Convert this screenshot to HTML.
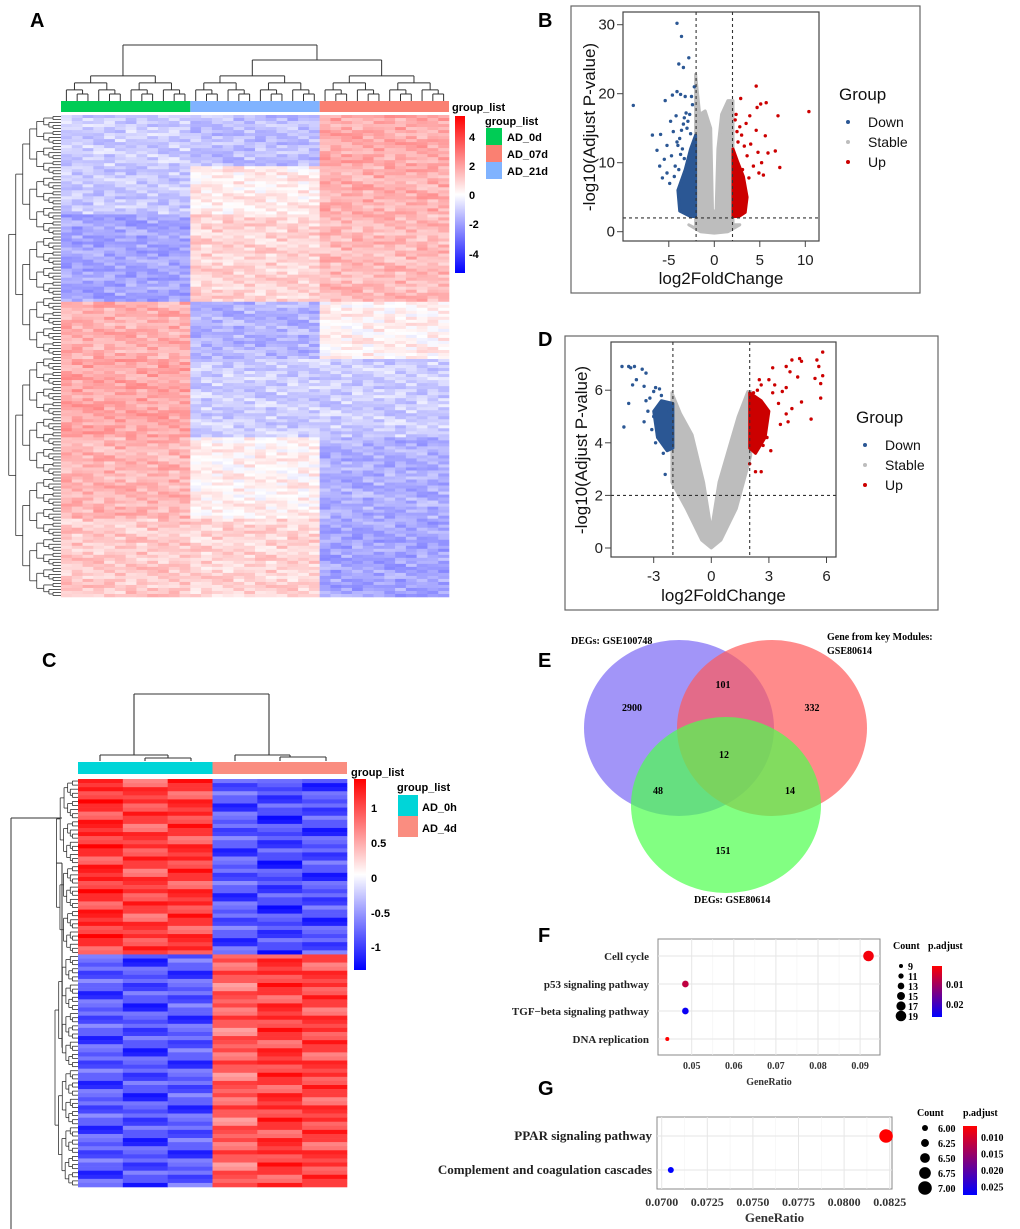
<!DOCTYPE html>
<html><head><meta charset="utf-8">
<style>
html,body{margin:0;padding:0;background:#fff;}
svg{display:block;}
.pl{font-family:"Liberation Sans",sans-serif;font-weight:bold;font-size:20px;}
.hm{font-family:"Liberation Sans",sans-serif;font-weight:bold;font-size:11px;}
.vt{font-family:"Liberation Sans",sans-serif;}
.sf{font-family:"Liberation Serif",serif;font-weight:bold;}
</style></head>
<body>
<svg id="fig" width="1020" height="1229" viewBox="0 0 1020 1229" xmlns="http://www.w3.org/2000/svg">
<rect x="0" y="0" width="1020" height="1229" fill="#fff"/>
<text class="pl" x="30" y="27">A</text>
<text class="pl" x="538" y="27">B</text>
<text class="pl" x="538" y="346">D</text>
<text class="pl" x="42" y="667">C</text>
<text class="pl" x="538" y="667">E</text>
<text class="pl" x="538" y="942">F</text>
<text class="pl" x="538" y="1095">G</text>
<g id="gA"></g>
<g id="gB"></g>
<g id="gD"></g>
<g id="gC"></g>
<g id="gE"></g>
<g id="gF"></g>
<g id="gG"></g>
</svg>
<script>
// ---------- data ----------
const hmAGroups = ["AD_0d","AD_21d","AD_07d"];
const hmABandRows = [17, 16, 29, 19, 26, 27, 26];
const hmABand0d  = [-1.0, -1.1, -1.8, 1.5, 1.7, 1.4, 1.0];
const hmABand21d = [-1.3, 0.3, 0.8, -1.5, -1.0, 0.2, 0.8];
const hmABand07d = [1.6, 1.5, 1.3, 0.2, -1.0, -1.6, -1.8];
const hmAJitter = [0.3,-0.2,0.5,-0.4,0.1,0.0,-0.3,0.4,-0.1,0.2,-0.5,0.3,0.0,-0.2,0.6,-0.3,0.1];
const hmCBandRows = [43, 57];
const hmCCols0h = [[1.05,0.95,1.0],[-0.9,-0.95,-0.9]];
const hmCCols4d = [[-0.9,-1.0,-0.95],[0.8,1.0,0.95]];
const hmCJitter = [0.1,-0.15,0.05,0.2,-0.1,0.0,0.15,-0.2,0.05,-0.05,0.12];
// Volcano B
const bDownX = [-4.1,-3.6,-2.8,-3.9,-3.4,-8.9,-5.4,-4.6,-4.1,-3.7,-3.2,-2.5,-2.2,-6.8,-5.9,-6.3,-5.2,-4.7,-5.5,-4.3,-5.2,-4.9,-4.4,-3.9,-3.5,-3.8,-3.0,-3.3,-2.7,-4.8,-4.2,-4.5,-3.6,-4.0,-6.0,-5.7,-3.1,-2.9,-3.4,-2.6,-4.1,-3.7,-3.3,-2.4];
const bDownY = [30.2,28.3,25.2,24.3,23.8,18.3,19.0,19.8,20.3,19.9,19.6,19.6,21.0,14.0,14.1,11.8,12.5,11.0,10.5,9.5,8.5,7.0,8.0,9.0,12.0,13.5,15.0,16.5,17.0,16.0,16.8,14.5,14.7,12.5,9.5,7.8,17.2,16.0,15.6,14.2,13.0,11.2,10.6,18.4];
const bDownBlobX = [-2.05,-2.05,-2.6,-3.2,-4.0,-3.8,-2.6];
const bDownBlobY = [2.2,14.0,12.0,9.0,6.0,3.0,2.2];
const bUpX = [4.6,2.9,5.7,5.1,4.7,10.4,7.0,2.4,3.9,4.6,5.6,6.7,7.2,5.9,4.8,5.2,5.4,4.9,4.0,3.5,3.0,3.6,4.3,3.8,2.6,3.1,2.3,2.8,3.3,2.5];
const bUpY = [21.1,19.3,18.7,18.5,18.0,17.4,16.8,17.0,16.8,14.7,13.9,11.7,9.3,11.4,11.5,10.0,8.2,8.5,12.7,15.7,14.0,11.0,9.5,7.8,13.0,9.0,16.2,15.2,12.4,14.5];
const bUpBlobX = [2.05,2.05,2.6,3.2,3.6,3.4,2.7];
const bUpBlobY = [2.2,12.0,10.0,8.0,5.0,2.8,2.2];
const bStableX = [-2.05,-2.05,-1.6,-1.0,-0.4,-0.2,0.2,0.4,0.8,1.5,2.05,2.05,2.8,1.5,0.0,-1.5,-2.8];
const bStableY = [0.5,22.8,17.0,17.5,15.0,3.0,3.0,12.0,17.0,19.0,19.0,1.0,1.0,0.0,-0.2,0.0,1.0];
const bXTicks = [-5,0,5,10];
const bYTicks = [0,10,20,30];
// Volcano D
const dDownX = [-4.65,-4.3,-4.2,-4.0,-3.6,-3.4,-3.9,-4.1,-3.5,-2.9,-2.7,-3.0,-3.2,-4.3,-4.55,-3.3,-3.5,-3.1,-2.5,-2.3,-2.4,-2.8,-3.0,-2.6,-2.2,-2.9,-3.4];
const dDownY = [6.9,6.9,6.85,6.9,6.8,6.65,6.4,6.2,6.15,6.1,6.05,5.95,5.7,5.5,4.6,5.2,4.8,4.5,3.6,3.8,2.8,4.3,5.0,5.8,5.2,4.0,5.6];
const dDownBlobX = [-2.0,-2.0,-2.6,-3.0,-2.8,-2.3];
const dDownBlobY = [3.8,5.5,5.6,5.2,4.2,3.7];
const dUpX = [5.8,4.6,4.2,5.5,4.7,3.9,5.6,3.2,4.1,4.5,5.8,5.4,5.7,3.0,2.5,3.3,3.9,2.6,3.7,2.2,3.2,4.7,5.7,5.2,4.0,3.9,4.2,2.6,2.3,2.0,3.1,2.9,3.5,3.6,2.4,2.7];
const dUpY = [7.45,7.2,7.15,7.15,7.1,6.9,6.9,6.85,6.7,6.5,6.55,6.45,6.25,6.4,6.4,6.2,6.1,6.2,5.95,5.9,5.9,5.55,5.7,4.9,4.8,5.1,5.3,2.9,2.9,3.2,3.7,4.2,5.5,4.7,6.0,3.9];
const dUpBlobX = [2.0,2.0,2.6,3.0,2.8,2.3];
const dUpBlobY = [3.8,5.9,5.6,5.2,4.2,3.6];
const dStableX = [-2.05,-2.05,-1.6,-1.0,-0.4,-0.05,0.05,0.4,1.0,1.4,1.9,2.05,2.05,1.3,0.5,0.0,-0.5,-1.3];
const dStableY = [2.5,5.9,5.1,4.3,2.5,0.9,0.9,2.5,4.0,5.0,5.95,5.95,3.5,1.5,0.3,0.0,0.3,1.5];
const dXTicks = [-3,0,3,6];
const dYTicks = [0,2,4,6];
// Venn E
const vennCounts = ["2900","101","332","12","48","14","151"];
// Dotplot F
const fTerms = ["Cell cycle","p53 signaling pathway","TGF\u2212beta signaling pathway","DNA replication"];
const fRatio = [0.092,0.0485,0.0485,0.0442];
const fCount = [19,13,13,9];
const fPadj = [0.003,0.008,0.025,0.002];
const fXTicks = [0.05,0.06,0.07,0.08,0.09];
const fCountLegend = [9,11,13,15,17,19];
const fPadjTicks = [0.01,0.02];
// Dotplot G
const gTerms = ["PPAR signaling pathway","Complement and coagulation cascades"];
const gRatio = [0.0823,0.0705];
const gCount = [7,6];
const gPadj = [0.008,0.027];
const gXTicks = [0.07,0.0725,0.075,0.0775,0.08,0.0825];
const gCountLegend = [6.00,6.25,6.50,6.75,7.00];
const gPadjTicks = [0.010,0.015,0.020,0.025];

// ---------- helpers ----------
const NS="http://www.w3.org/2000/svg";
function mk(parent,tag,attrs,txt){const e=document.createElementNS(NS,tag);for(const k in attrs)e.setAttribute(k,attrs[k]);if(txt!==undefined)e.textContent=txt;parent.appendChild(e);return e;}
function hcol(v,max){let t=Math.max(-1,Math.min(1,v/max));if(t>=0){const c=Math.round(255*(1-t));return `rgb(255,${c},${c})`;}const c=Math.round(255*(1+t));return `rgb(${c},${c},255)`;}
function seg(p,x1,y1,x2,y2,st,w){return mk(p,"line",{x1:x1,y1:y1,x2:x2,y2:y2,stroke:st||"#333","stroke-width":w||1});}

// ---------- Heatmap A ----------
try{(function(){
  const g=document.getElementById("gA");
  const X0=61,X1=449,Y0=115,Y1=597,ncolPer=12;
  const ncol=ncolPer*3;const cw=(X1-X0)/ncol;
  const nrow=hmABandRows.reduce((a,b)=>a+b,0);const rh=(Y1-Y0)/nrow;
  const groupVals=[hmABand0d,hmABand21d,hmABand07d];
  let r=0;
  hmABandRows.forEach((cnt,b)=>{
    for(let k=0;k<cnt;k++,r++){
      for(let c=0;c<ncol;c++){
        const gi=Math.floor(c/ncolPer);
        const v=groupVals[gi][b]+hmAJitter[(r*7+c*5+((r*c)%3))%hmAJitter.length]*1.1;
        const el=mk(g,"rect",{x:(X0+c*cw).toFixed(2),y:(Y0+r*rh).toFixed(2),width:(cw+0.3).toFixed(2),height:(rh+0.3).toFixed(2),fill:hcol(v,5)});
        
        
      }
    }
  });
  const gcol=["#00cc55","#80b3ff","#fa8072"];
  for(let i=0;i<3;i++){const el=mk(g,"rect",{x:X0+i*ncolPer*cw,y:101,width:ncolPer*cw,height:11,fill:gcol[i]});
    
    }
  function topTree(lo,hi){
    if(hi-lo===1)return [X0+(lo+0.5)*cw,101];
    const mid=Math.floor((lo+hi)/2);
    const y=101-7*Math.log2(hi-lo);
    const a=topTree(lo,mid),b=topTree(mid,hi);
    seg(g,a[0],y,b[0],y);seg(g,a[0],y,a[0],a[1]);seg(g,b[0],y,b[0],b[1]);
    return [(a[0]+b[0])/2,y];
  }
  const gx=[];for(let i=0;i<3;i++)gx.push(topTree(i*ncolPer,(i+1)*ncolPer));
  seg(g,gx[1][0],60,gx[2][0],60);seg(g,gx[1][0],60,gx[1][0],gx[1][1]);seg(g,gx[2][0],60,gx[2][0],gx[2][1]);
  const br=(gx[1][0]+gx[2][0])/2;seg(g,gx[0][0],45,br,45);seg(g,gx[0][0],45,gx[0][0],gx[0][1]);seg(g,br,45,br,60);
  function leftTree(lo,hi){
    const yc=Y0+((lo+hi)/2)*rh;
    if(hi-lo===1)return [X0,yc];
    const mid=Math.floor((lo+hi)/2);
    const x=X0-7*Math.log2(hi-lo)-1;
    const a=leftTree(lo,mid),b=leftTree(mid,hi);
    seg(g,x,a[1],x,b[1],"#333",0.8);seg(g,x,a[1],a[0],a[1],"#333",0.8);seg(g,x,b[1],b[0],b[1],"#333",0.8);
    return [x,(a[1]+b[1])/2];
  }
  leftTree(0,nrow);
  const defs=mk(g,"defs",{});const lg=mk(defs,"linearGradient",{id:"gradA",x1:0,y1:0,x2:0,y2:1});
  [["0","#ff0000"],["0.5","#ffffff"],["1","#0000ff"]].forEach(s=>mk(lg,"stop",{offset:s[0],"stop-color":s[1]}));
  const cb=mk(g,"rect",{x:455,y:116,width:10,height:157,fill:"url(#gradA)"});
  
  
  [["4",141],["2",170],["0",199],["-2",228],["-4",258]].forEach(t=>{const el=mk(g,"text",{x:469,y:t[1],class:"hm"},t[0]);
    
    });
  const t1=mk(g,"text",{x:452,y:111,class:"hm"},"group_list");
  
  
  const t2=mk(g,"text",{x:485,y:125,class:"hm"},"group_list");
  
  
  const lcol=["#00cc55","#fa8072","#80b3ff"],lname=["AD_0d","AD_07d","AD_21d"];
  for(let i=0;i<3;i++){
    const sw=mk(g,"rect",{x:486,y:128+i*17,width:16,height:17,fill:lcol[i]});
    
    
    const lt=mk(g,"text",{x:507,y:141+i*17,class:"hm"},lname[i]);
    
    
  }
})();}catch(e){console.log(e);}

// ---------- Volcano ----------
function volcano(id,o){
  const g=document.getElementById(id);
  const sx=v=>o.x0+(v-o.xa)*o.kx, sy=v=>o.y0-(v)*o.ky;
  const ob=mk(g,"rect",{x:o.box[0],y:o.box[1],width:o.box[2],height:o.box[3],fill:"#fff",stroke:"#666","stroke-width":1.2});
  
  
  const pa=mk(g,"rect",{x:o.pa[0],y:o.pa[1],width:o.pa[2],height:o.pa[3],fill:"none",stroke:"#444","stroke-width":1.2});
  
  
  function poly(xs,ys,col,name){const pts=xs.map((x,i)=>sx(x).toFixed(1)+","+sy(ys[i]).toFixed(1)).join(" ");
    const p=mk(g,"polygon",{points:pts,fill:col,stroke:col,"stroke-width":3,"stroke-linejoin":"round"});
    
    }
  function pts(xs,ys,col,name){xs.forEach((x,i)=>{const c=mk(g,"circle",{cx:sx(x).toFixed(1),cy:sy(ys[i]).toFixed(1),r:1.7,fill:col});
    
    });}
  poly(o.sxs,o.sys,"#bdbdbd","stable-cloud");
  poly(o.dbx,o.dby,"#2b5794","down-cluster");
  poly(o.ubx,o.uby,"#cc0000","up-cluster");
  pts(o.dx,o.dy,"#2b5794","down-point");
  pts(o.ux,o.uy,"#cc0000","up-point");
  const L=o.pa[0],R=o.pa[0]+o.pa[2],T=o.pa[1],B=o.pa[1]+o.pa[3];
  [-2,2].forEach(v=>{const l=mk(g,"line",{x1:sx(v),y1:T,x2:sx(v),y2:B,stroke:"#333","stroke-dasharray":"3,3","stroke-width":1.1});
    
    });
  const hl=mk(g,"line",{x1:L,y1:sy(2),x2:R,y2:sy(2),stroke:"#333","stroke-dasharray":"3,3","stroke-width":1.1});
  
  
  o.xt.forEach(v=>{seg(g,sx(v),B,sx(v),B+6,"#444");const t=mk(g,"text",{x:sx(v),y:B+24,"text-anchor":"middle",class:"vt","font-size":15,fill:"#222"},String(v));
    
    });
  o.yt.forEach(v=>{seg(g,L-6,sy(v),L,sy(v),"#444");const t=mk(g,"text",{x:L-8,y:sy(v)+5,"text-anchor":"end",class:"vt","font-size":15,fill:"#222"},String(v));
    
    });
  const xt=mk(g,"text",{x:(L+R)/2,y:o.xtY,"text-anchor":"middle",class:"vt","font-size":17,fill:"#111"},"log2FoldChange");
  
  
  const yt=mk(g,"text",{x:0,y:0,transform:`translate(${o.ytX},${o.ytY}) rotate(-90)`,"text-anchor":"middle",class:"vt","font-size":17,fill:"#111"},"-log10(Adjust P-value)");
  
  
  const lt=mk(g,"text",{x:o.lg[0],y:o.lg[1],class:"vt","font-size":17,fill:"#111"},"Group");
  
  
  [["Down","#2b5794"],["Stable","#bdbdbd"],["Up","#cc0000"]].forEach((e,i)=>{
    const c=mk(g,"circle",{cx:o.lg[0]+9,cy:o.lg[1]+22+i*20,r:2,fill:e[1]});
    
    
    const t=mk(g,"text",{x:o.lg[0]+29,y:o.lg[1]+27+i*20,class:"vt","font-size":14,fill:"#111"},e[0]);
    
    
  });
}
try{volcano("gB",{box:[571,6,349,287],pa:[623,12,196,229],x0:714.3,xa:0,kx:9.1,y0:231.7,ky:6.9,
  dx:bDownX,dy:bDownY,dbx:bDownBlobX,dby:bDownBlobY,ux:bUpX,uy:bUpY,ubx:bUpBlobX,uby:bUpBlobY,sxs:bStableX,sys:bStableY,
  xt:bXTicks,yt:bYTicks,xtY:284,ytX:595,ytY:127,lg:[839,100]});}catch(e){console.log(e);}
try{volcano("gD",{box:[565,336,373,274],pa:[611,342,225,215],x0:711.3,xa:0,kx:19.2,y0:548,ky:26.3,
  dx:dDownX,dy:dDownY,dbx:dDownBlobX,dby:dDownBlobY,ux:dUpX,uy:dUpY,ubx:dUpBlobX,uby:dUpBlobY,sxs:dStableX,sys:dStableY,
  xt:dXTicks,yt:dYTicks,xtY:601,ytX:587,ytY:450,lg:[856,423]});}catch(e){console.log(e);}

// ---------- Heatmap C ----------
try{(function(){
  const g=document.getElementById("gC");
  const X0=78,X1=347,Y0=779,Y1=1187,ncol=6,cw=(X1-X0)/ncol;
  const nrow=hmCBandRows.reduce((a,b)=>a+b,0),rh=(Y1-Y0)/nrow;
  let r=0;
  hmCBandRows.forEach((cnt,b)=>{for(let k=0;k<cnt;k++,r++){for(let c=0;c<ncol;c++){
    const base=c<3?hmCCols0h[b][c]:hmCCols4d[b][c-3];
    const v=base+hmCJitter[(r*5+c*7)%hmCJitter.length]*1.5;
    const el=mk(g,"rect",{x:(X0+c*cw).toFixed(2),y:(Y0+r*rh).toFixed(2),width:(cw+0.3).toFixed(2),height:(rh+0.3).toFixed(2),fill:hcol(v,1.35)});
    
    
  }}});
  const a1=mk(g,"rect",{x:X0,y:762,width:3*cw,height:12,fill:"#00d5d8"});
  
  
  const a2=mk(g,"rect",{x:X0+3*cw,y:762,width:3*cw,height:12,fill:"#fa8d80"});
  
  
  [[134,694,269,694],[134,694,134,755],[269,694,269,755],[100,755,168,755],[100,755,100,761],[168,755,168,758],[145,758,191,758],[145,758,145,761],[191,758,191,761],
   [235,755,290,755],[235,755,235,761],[290,755,290,757],[280,757,326,757],[280,757,280,761],[326,757,326,761]].forEach(s=>seg(g,s[0],s[1],s[2],s[3],"#333",1.1));
  const split=hmCBandRows[0];
  function leftTree(lo,hi){const yc=Y0+((lo+hi)/2)*rh;if(hi-lo===1)return [X0,yc];
    const mid=Math.floor((lo+hi)/2);const x=X0-3.6*Math.log2(hi-lo)-2;
    const a=leftTree(lo,mid),b=leftTree(mid,hi);
    seg(g,x,a[1],x,b[1],"#333",0.8);seg(g,x,a[1],a[0],a[1],"#333",0.8);seg(g,x,b[1],b[0],b[1],"#333",0.8);return [x,(a[1]+b[1])/2];}
  const A=leftTree(0,split),B=leftTree(split,nrow);
  seg(g,62,A[1],A[0],A[1]);seg(g,62,A[1],62,B[1]-20);
  seg(g,11,818,11,1229);seg(g,11,818,62,818);
  const defs=mk(g,"defs",{});const lg=mk(defs,"linearGradient",{id:"gradC",x1:0,y1:0,x2:0,y2:1});
  [["0","#ff0000"],["0.5","#ffffff"],["1","#0000ff"]].forEach(s=>mk(lg,"stop",{offset:s[0],"stop-color":s[1]}));
  const cb=mk(g,"rect",{x:354,y:779,width:12,height:191,fill:"url(#gradC)"});
  
  
  [["1",812],["0.5",847],["0",882],["-0.5",917],["-1",951]].forEach(t=>{const el=mk(g,"text",{x:371,y:t[1],class:"hm","font-size":12},t[0]);
    
    });
  const t1=mk(g,"text",{x:351,y:776,class:"hm","font-size":12},"group_list");
  
  
  const t2=mk(g,"text",{x:397,y:791,class:"hm","font-size":12},"group_list");
  
  
  [["#00d5d8","AD_0h"],["#fa8d80","AD_4d"]].forEach((e,i)=>{
    const sw=mk(g,"rect",{x:398,y:795+i*21,width:20,height:21,fill:e[0]});
    
    
    const t=mk(g,"text",{x:422,y:811+i*21,class:"hm","font-size":12},e[1]);
    
    });
})();}catch(e){console.log(e);}

// ---------- Venn ----------
try{(function(){
  const g=document.getElementById("gE");
  [[679,728,"#7b68f5"],[772,728,"#ff5a5a"],[726,805,"#4dff4d"]].forEach((c,i)=>{
    const e=mk(g,"ellipse",{cx:c[0],cy:c[1],rx:95,ry:88,fill:c[2],"fill-opacity":0.7});
    
    });
  const pos=[[632,711],[723,688],[812,711],[724,758],[658,794],[790,794],[723,854]];
  vennCounts.forEach((v,i)=>{const t=mk(g,"text",{x:pos[i][0],y:pos[i][1],"text-anchor":"middle",class:"sf","font-size":10},v);
    
    });
  [["DEGs: GSE100748",571,644],["Gene from key Modules:",827,640],["GSE80614",827,654],["DEGs: GSE80614",694,903]].forEach(l=>{
    const t=mk(g,"text",{x:l[1],y:l[2],class:"sf","font-size":10},l[0]);
    
    });
})();}catch(e){console.log(e);}

// ---------- Dotplots ----------
function padjCol(p,lo,hi){const t=Math.max(0,Math.min(1,(p-lo)/(hi-lo)));return "rgb("+Math.round(255*(1-t))+",0,"+Math.round(255*t)+")";}
function dotplot(id,o){
  const g=document.getElementById(id);
  function sx(v){return o.px0+(v-o.xa)*o.kx;}
  const L=o.pa[0],T=o.pa[1],R=L+o.pa[2],Bt=T+o.pa[3];
  const bg=mk(g,"rect",{x:L,y:T,width:o.pa[2],height:o.pa[3],fill:"#fff",stroke:"#888","stroke-width":1});
  
  
  for(let i=0;i<o.xt.length;i++){
    seg(g,sx(o.xt[i]),T,sx(o.xt[i]),Bt,"#e6e6e6",1);
    if(i<o.xt.length-1){const mx=(sx(o.xt[i])+sx(o.xt[i+1]))/2;seg(g,mx,T,mx,Bt,"#f3f3f3",0.6);}
  }
  for(let i=0;i<o.terms.length;i++){
    seg(g,L,o.ys[i],R,o.ys[i],"#e6e6e6",1);
    const t=mk(g,"text",{x:o.labX,y:o.ys[i]+4,"text-anchor":"end",class:"sf","font-size":o.lfs,fill:"#222"},o.terms[i]);
    
    
    const c=mk(g,"circle",{cx:sx(o.ratio[i]),cy:o.ys[i],r:o.rad(o.count[i]),fill:padjCol(o.padj[i],o.plo,o.phi)});
    
    
  }
  for(let i=0;i<o.xt.length;i++){
    const t=mk(g,"text",{x:sx(o.xt[i]),y:o.tickY,"text-anchor":"middle",class:"sf","font-size":o.tfs,fill:"#333"},o.fmt(o.xt[i]));
    
    
  }
  const xt=mk(g,"text",{x:(L+R)/2,y:o.titY,"text-anchor":"middle",class:"sf","font-size":o.titfs,fill:"#333"},"GeneRatio");
  
  
  const ct=mk(g,"text",{x:o.cl[0],y:o.cl[1],class:"sf","font-size":o.lgfs},"Count");
  
  
  for(let i=0;i<o.cleg.length;i++){
    const v=o.cleg[i];const y=o.cl[1]+o.cl[2]+i*o.cl[3];
    const c=mk(g,"circle",{cx:o.cl[0]+o.cl[4],cy:y,r:o.rad(v),fill:"#000"});
    
    
    const t=mk(g,"text",{x:o.cl[0]+o.cl[5],y:y+4,class:"sf","font-size":o.lgfs},o.cfmt(v));
    
    
  }
  const ptitle=mk(g,"text",{x:o.pl[0],y:o.pl[1],class:"sf","font-size":o.lgfs},"p.adjust");
  
  
  const defs=mk(g,"defs",{});const lgr=mk(defs,"linearGradient",{id:"grad"+id,x1:0,y1:0,x2:0,y2:1});
  mk(lgr,"stop",{offset:"0","stop-color":"#ff0000"});
  mk(lgr,"stop",{offset:"1","stop-color":"#0000ff"});
  const cb=mk(g,"rect",{x:o.cb[0],y:o.cb[1],width:o.cb[2],height:o.cb[3],fill:"url(#grad"+id+")"});
  
  
  for(let i=0;i<o.ptk.length;i++){
    const v=o.ptk[i];const y=o.cb[1]+(v-o.cbLo)/(o.cbHi-o.cbLo)*o.cb[3];
    const t=mk(g,"text",{x:o.cb[0]+o.cb[2]+4,y:y+4,class:"sf","font-size":o.lgfs},o.pfmt(v));
    
    
  }
}
try{dotplot("gF",{pa:[658,939,222,116],px0:691.7,xa:0.05,kx:4210,xt:fXTicks,ys:[956,984,1011,1039],terms:fTerms,ratio:fRatio,count:fCount,padj:fPadj,
  plo:0.002,phi:0.026,rad:function(c){return 2+(c-9)*0.33;},labX:649,lfs:11,tfs:10,tickY:1069,titY:1085,titfs:10,fmt:function(v){return v.toFixed(2);},
  cl:[893,949,17,10,8,15],cleg:fCountLegend,lgfs:10,cfmt:function(v){return String(v);},pl:[928,949],cb:[932,966,10,51],cbLo:0.001,cbHi:0.0265,ptk:fPadjTicks,pfmt:function(v){return v.toFixed(2);}});}catch(e){console.log(e);}
try{dotplot("gG",{pa:[657,1117,235,72],px0:661.7,xa:0.07,kx:18240,xt:gXTicks,ys:[1136,1170],terms:gTerms,ratio:gRatio,count:gCount,padj:gPadj,
  plo:0.008,phi:0.027,rad:function(c){return 3+(c-6)*3.8;},labX:652,lfs:13,tfs:12,tickY:1206,titY:1222,titfs:13,fmt:function(v){return v.toFixed(4);},
  cl:[917,1116,12,15,8,21],cleg:gCountLegend,lgfs:10,cfmt:function(v){return v.toFixed(2);},pl:[963,1116],cb:[963,1126,14,69],cbLo:0.0067,cbHi:0.0275,ptk:gPadjTicks,pfmt:function(v){return v.toFixed(3);}});}catch(e){console.log(e);}
</script>
</body></html>
